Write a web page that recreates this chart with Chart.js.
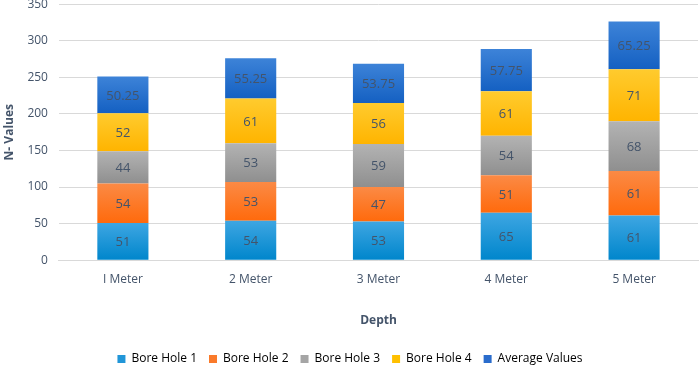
<!DOCTYPE html>
<html>
<head>
<meta charset="utf-8">
<script src="https://cdn.jsdelivr.net/npm/chart.js@4"></script>
<style>
	html, body { margin: 0; padding: 0; background: #fff; overflow: hidden; }
	#wrap { width: 699px; height: 389px; margin-top: -14px; }
</style>
</head>
<body>
<div id="wrap"><canvas id="depthChart"></canvas></div>
<script>
const depths = ["I Meter", "2 Meter", "3 Meter", "4 Meter", "5 Meter"]
const boreHole1 = [51, 54, 53, 65, 61]
const boreHole2 = [54, 53, 47, 51, 61]
const boreHole3 = [44, 53, 59, 54, 68]
const boreHole4 = [52, 61, 56, 61, 71]
const averageValues = [50.25, 55.25, 53.75, 57.75, 65.25]
const yTicks = [0, 50, 100, 150, 200, 250, 300, 350]

// top / bottom colour of every segment's gradient
const shades = {
	"Bore Hole 1": ["#3ea6e2", "#0086cc"],
	"Bore Hole 2": ["#fb8a45", "#ff6a0c"],
	"Bore Hole 3": ["#b3b3b3", "#8f8f8f"],
	"Bore Hole 4": ["#ffcb2e", "#ffb400"],
	"Average Values": ["#3d83d8", "#1460c2"]
}
const legendColors = {
	"Bore Hole 1": "#2196d8",
	"Bore Hole 2": "#fa7a2a",
	"Bore Hole 3": "#a5a5a5",
	"Bore Hole 4": "#ffc000",
	"Average Values": "#2a6ccc"
}

function makeSet(label, data) {
	return {
		label,
		data,
		backgroundColor: () => legendColors[label], //scriptable so options are not shared
		borderWidth: 0,
		barPercentage: 0.4,
		categoryPercentage: 1
	}
}

const gradientBars = {
	id: "gradientBars",
	beforeDatasetsDraw(chart) {
		const ctx = chart.ctx
		chart.data.datasets.forEach((ds, i) => {
			const meta = chart.getDatasetMeta(i)
			const [top, bottom] = shades[ds.label]
			meta.data.forEach(el => {
				const g = ctx.createLinearGradient(0, el.y, 0, el.base)
				g.addColorStop(0, top)
				g.addColorStop(1, bottom)
				el.options.backgroundColor = g
			})
		})
	}
}

const barLabels = {
	id: "barLabels",
	afterDatasetsDraw(chart) {
		const ctx = chart.ctx
		ctx.save()
		ctx.font = "13px 'Open Sans'"
		ctx.fillStyle = "#44546a"
		ctx.textAlign = "center"
		ctx.textBaseline = "middle"
		chart.data.datasets.forEach((ds, i) => {
			chart.getDatasetMeta(i).data.forEach((el, j) => {
				ctx.fillText(String(ds.data[j]), el.x, (el.y + el.base) / 2 + 1)
			})
		})
		ctx.restore()
	}
}

const font12 = { family: "'Open Sans'", size: 12 }

new Chart(document.getElementById("depthChart"), {
	type: "bar",
	data: {
		labels: depths,
		datasets: [
			makeSet("Bore Hole 1", boreHole1),
			makeSet("Bore Hole 2", boreHole2),
			makeSet("Bore Hole 3", boreHole3),
			makeSet("Bore Hole 4", boreHole4),
			makeSet("Average Values", averageValues)
		]
	},
	options: {
		responsive: true,
		maintainAspectRatio: false,
		animation: false,
		layout: { padding: { top: -2, right: 1, left: 2, bottom: 0 } },
		plugins: {
			tooltip: { enabled: false },
			legend: {
				position: "bottom",
				labels: {
					boxWidth: 8,
					boxHeight: 8,
					padding: 12,
					color: "#44546a",
					font: font12,
					generateLabels(chart) {
						return chart.data.datasets.map((ds, i) => ({
							text: ds.label,
							fillStyle: legendColors[ds.label],
							strokeStyle: legendColors[ds.label],
							lineWidth: 0,
							datasetIndex: i
						}))
					}
				}
			}
		},
		scales: {
			x: {
				stacked: true,
				grid: { display: false, drawTicks: false },
				border: { color: "#d9d9d9" },
				ticks: { color: "#44546a", font: font12, padding: 12 },
				title: { display: true, text: "Depth", color: "#44546a", font: { family: "'Open Sans'", size: 12, weight: "bold" }, padding: { top: 15, bottom: 13 } }
			},
			y: {
				stacked: true,
				min: 0,
				max: 350,
				afterBuildTicks(scale) { scale.ticks = yTicks.map(v => ({ value: v })) },
				grid: { color: "#d9d9d9", drawTicks: false },
				border: { display: false },
				ticks: { color: "#44546a", font: font12, padding: 11 },
				title: { display: true, text: "N- Values", color: "#44546a", font: { family: "'Open Sans'", size: 12, weight: "bold" }, padding: { top: 0, bottom: 0 } }
			}
		}
	},
	plugins: [gradientBars, barLabels]
});
</script>
</body>
</html>
